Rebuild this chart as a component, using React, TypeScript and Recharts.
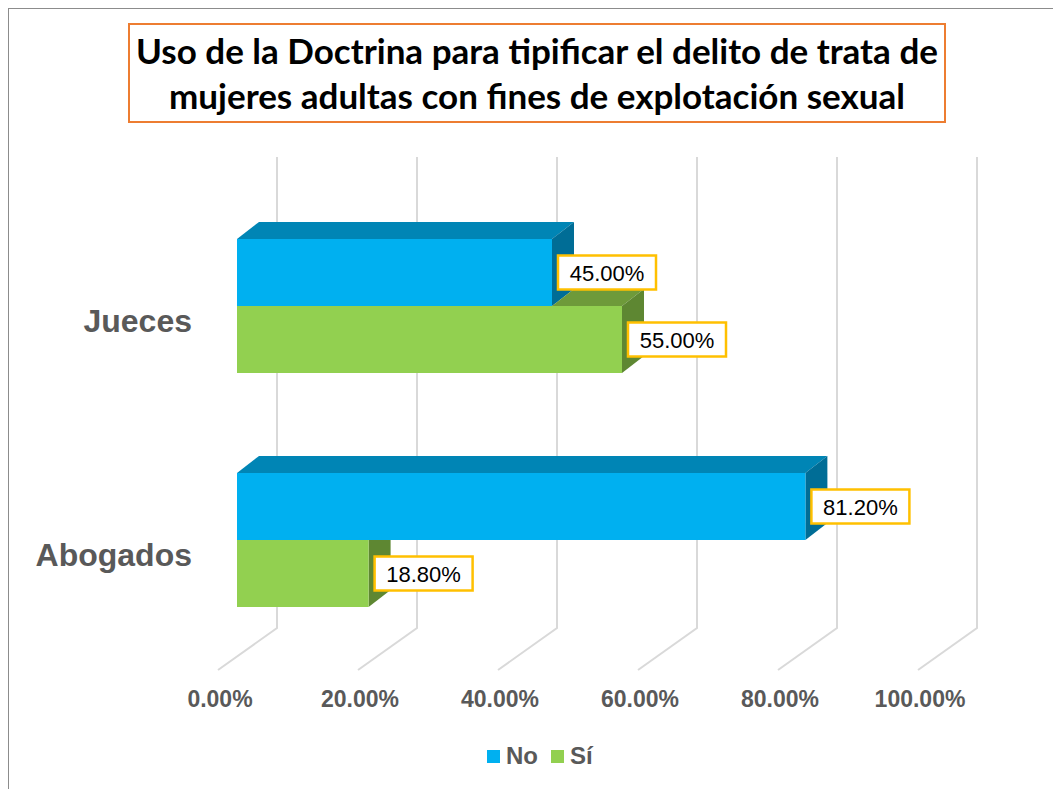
import { BarChart, Bar, XAxis, YAxis, CartesianGrid, LabelList } from "recharts";

const categories = ["Jueces", "Abogados"];
const noValues = [0.45, 0.812];
const siValues = [0.55, 0.188];
const xTicks = [0, 0.2, 0.4, 0.6, 0.8, 1];
const seriesNames = ["No", "Sí"];
const titleLines = [
  "Uso de la Doctrina para tipificar el delito de trata de",
  "mujeres adultas con fines de explotación sexual",
];

const data = categories.map((name, i) => ({ name, no: noValues[i], si: siValues[i] }));

const BLUE = { front: "#00B0F0", top: "#0085B5", side: "#006D96" };
const GREEN = { front: "#92D050", top: "#6E9A3A", side: "#5E8732" };
const DX = 22;
const DY = 17;
const FONT = "'Liberation Sans', Arial, sans-serif";
const GRAY = "#595959";

const fmt = (v: number) => `${(v * 100).toFixed(2)}%`;

type BoxProps = {
  x: number;
  y: number;
  width: number;
  height: number;
  colors: { front: string; top: string; side: string };
  topFrom: number;
  clipSide: boolean;
};

function Box3D({ x, y, width, height, colors, topFrom, clipSide }: BoxProps) {
  const r = x + width;
  const b = y + height;
  const sideTop = clipSide ? y : y - DY;
  return (
    <g>
      {topFrom < r && (
        <polygon
          points={`${topFrom},${y} ${topFrom + DX},${y - DY} ${r + DX},${y - DY} ${r},${y}`}
          fill={colors.top}
        />
      )}
      <polygon
        points={`${r},${y} ${r + DX},${sideTop} ${r + DX},${b - DY} ${r},${b}`}
        fill={colors.side}
      />
      <rect x={x} y={y} width={width} height={height} fill={colors.front} />
    </g>
  );
}

function NoShape(props: any) {
  const { x, y, width, height } = props;
  return <Box3D x={x} y={y} width={width} height={height} colors={BLUE} topFrom={x} clipSide={false} />;
}

function SiShape(props: any) {
  const { x, y, width, height, payload } = props;
  // the "No" bar sits just above and hides part of this bar's top face
  const pxPerUnit = width / payload.si;
  const blueEnd = x + payload.no * pxPerUnit;
  const r = x + width;
  return (
    <Box3D
      x={x}
      y={y}
      width={width}
      height={height}
      colors={GREEN}
      topFrom={blueEnd}
      clipSide={blueEnd >= r + DX}
    />
  );
}

function ValueLabel(props: any) {
  const { x, y, width, height, value } = props;
  const bx = Number(x) + Number(width) + 6;
  const cy = Number(y) + Number(height) / 2;
  return (
    <g>
      <rect x={bx} y={cy - 17} width={98} height={34} fill="#FFFFFF" stroke="#FFC000" strokeWidth={2.5} />
      <text
        x={bx + 49}
        y={cy + 8}
        textAnchor="middle"
        fontSize={22}
        fontFamily={FONT}
        fill="#000000"
      >
        {fmt(Number(value))}
      </text>
    </g>
  );
}

function GridLine(props: any) {
  const { x1, y1, y2 } = props;
  return (
    <path
      key={`g-${x1}`}
      d={`M${x1 + 40},${y1 - 32} L${x1 + 40},${y2 - 29} L${x1 - 19},${y2 + 13}`}
      stroke="#D9D9D9"
      strokeWidth={2}
      fill="none"
    />
  );
}

function XTick(props: any) {
  const { x, y, payload } = props;
  return (
    <text
      x={x - 17}
      y={y + 42}
      textAnchor="middle"
      fontSize={23}
      fontWeight="bold"
      fontFamily={FONT}
      fill={GRAY}
    >
      {fmt(payload.value)}
    </text>
  );
}

function YTick(props: any) {
  const { x, y, payload } = props;
  return (
    <text
      x={x - 37}
      y={y + 26}
      textAnchor="end"
      fontSize={32}
      fontWeight="bold"
      fontFamily={FONT}
      fill={GRAY}
    >
      {payload.value}
    </text>
  );
}

export default function App() {
  const seriesColors = [BLUE.front, GREEN.front];
  return (
    <div style={{ position: "relative", width: 1053, height: 781, overflow: "hidden" }}>
      <style>{"body{margin:8px;overflow:hidden;}"}</style>
      <div
        style={{
          position: "absolute",
          left: 0,
          top: 0,
          width: 1053,
          height: 781,
          borderTop: "1px solid #8C8C8C",
          borderLeft: "1px solid #8C8C8C",
          boxSizing: "border-box",
        }}
      />
      <BarChart
        width={1053}
        height={781}
        data={data}
        layout="vertical"
        margin={{ top: 181, right: 124, bottom: 72, left: 0 }}
        barCategoryGap={50}
        barGap={0}
      >
        <CartesianGrid horizontal={false} vertical={GridLine} />
        <XAxis
          type="number"
          domain={[0, 1]}
          ticks={xTicks}
          axisLine={false}
          tickLine={false}
          height={60}
          tick={XTick}
          interval={0}
        />
        <YAxis
          type="category"
          dataKey="name"
          width={229}
          axisLine={false}
          tickLine={false}
          tick={YTick}
        />
        <Bar dataKey="no" name={seriesNames[0]} shape={NoShape} isAnimationActive={false}>
          <LabelList dataKey="no" content={ValueLabel} />
        </Bar>
        <Bar dataKey="si" name={seriesNames[1]} shape={SiShape} isAnimationActive={false}>
          <LabelList dataKey="si" content={ValueLabel} />
        </Bar>
      </BarChart>
      <div
        style={{
          position: "absolute",
          left: 120,
          top: 15,
          width: 818,
          height: 100,
          boxSizing: "border-box",
          border: "2px solid #ED7D31",
          background: "#FFFFFF",
          display: "flex",
          flexDirection: "column",
          justifyContent: "center",
          alignItems: "center",
          fontFamily: "Lato, 'Open Sans', sans-serif",
          fontWeight: "bold",
          fontSize: 35,
          lineHeight: "45px",
          color: "#000000",
          whiteSpace: "nowrap",
        }}
      >
        {titleLines.map((t) => (
          <div key={t}>{t}</div>
        ))}
      </div>
      <div
        style={{
          position: "absolute",
          left: 479,
          top: 734,
          display: "flex",
          alignItems: "center",
          fontFamily: FONT,
          fontWeight: "bold",
          fontSize: 24,
          color: GRAY,
        }}
      >
        {seriesNames.map((n, i) => (
          <div key={n} style={{ display: "flex", alignItems: "center", marginRight: 13 }}>
            <span style={{ width: 13, height: 13, background: seriesColors[i], marginRight: 6 }} />
            <span>{n}</span>
          </div>
        ))}
      </div>
    </div>
  );
}
